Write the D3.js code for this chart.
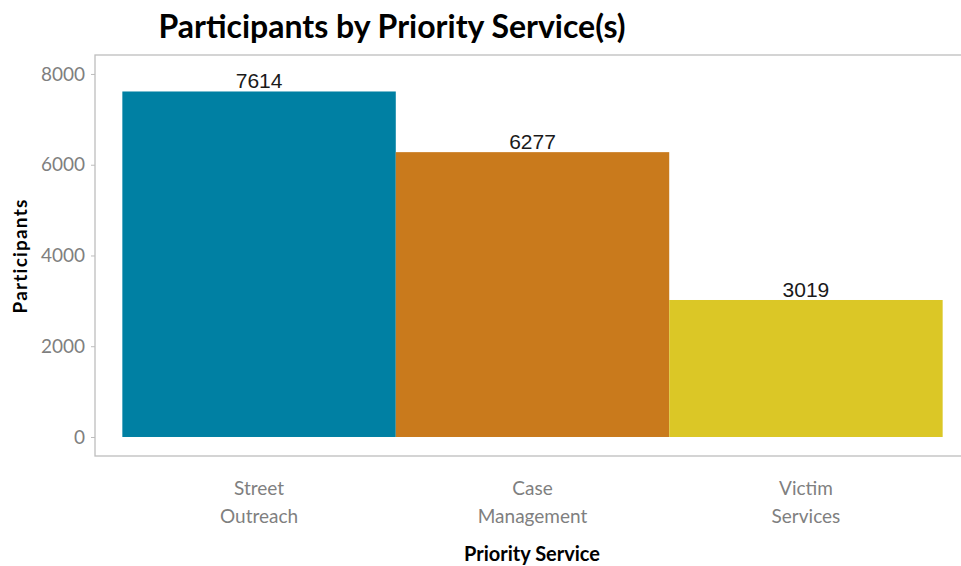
<!DOCTYPE html>
<html>
<head>
<meta charset="utf-8">
<script src="https://cdn.jsdelivr.net/npm/d3@7"></script>
<style>
  body { margin: 0; background: #fff; }
  svg { display: block; }
</style>
</head>
<body>
<div id="chart"></div>
<script>
var categories = ["Street Outreach", "Case Management", "Victim Services"];
var labelLines = [["Street", "Outreach"], ["Case", "Management"], ["Victim", "Services"]];
var participants = [7614, 6277, 3019];
var colors = ["#0080A3", "#C97A1C", "#DBC726"];
var yTicks = [0, 2000, 4000, 6000, 8000];

var width = 961, height = 566;
var margin = {top: 55, right: -9, bottom: 110, left: 95};
var innerW = width - margin.left - margin.right;
var innerH = height - margin.top - margin.bottom;

var svg = d3.select("#chart")
    .append("svg")
    .attr("width", width)
    .attr("height", height);

var g = svg.append("g")
    .attr("transform", "translate(" + margin.left + "," + margin.top + ")");

// discrete axis with ggplot-like 0.6 expansion
var xPos = d3.scaleLinear()
    .domain([0.4, 3.6])
    .range([0, innerW]);

var y = d3.scaleLinear()
    .domain([-419, 8418])
    .range([innerH, 0]);

// panel border
g.append("rect")
    .attr("x", 0)
    .attr("y", 0)
    .attr("width", innerW)
    .attr("height", innerH)
    .attr("fill", "none")
    .attr("stroke", "#bdbdbd")
    .attr("stroke-width", 1.3);

// bars
g.selectAll("rect.bar")
    .data(participants)
    .join("rect")
    .attr("class", "bar")
    .attr("x", (d, i) => xPos(i + 0.5))
    .attr("width", (d, i) => xPos(i + 1.5) - xPos(i + 0.5))
    .attr("y", d => y(d))
    .attr("height", d => y(0) - y(d))
    .attr("fill", (d, i) => colors[i]);

// value labels
g.selectAll("text.val")
    .data(participants)
    .join("text")
    .attr("class", "val")
    .attr("x", (d, i) => xPos(i + 1))
    .attr("y", d => y(d) - 3)
    .attr("text-anchor", "middle")
    .style("font-family", "Liberation Sans, Arial, sans-serif")
    .style("font-size", "21px")
    .style("fill", "#1a1a1a")
    .text(d => d);

// y axis
var yAxis = g.append("g")
    .call(d3.axisLeft(y).tickValues(yTicks).tickFormat(d3.format("d")).tickSize(4).tickPadding(6))
yAxis.select(".domain").remove();
yAxis.selectAll(".tick line").attr("stroke", "#bdbdbd");
yAxis.selectAll(".tick text")
    .style("font-family", "Lato, sans-serif")
    .style("font-size", "19px")
    .style("fill", "#7f7f7f");

// x axis labels
var xLab = g.selectAll("g.xlab")
    .data(labelLines)
    .join("g")
    .attr("class", "xlab")
    .attr("transform", (d, i) => "translate(" + xPos(i + 1) + "," + (innerH + 39) + ")");
xLab.selectAll("text")
    .data(d => d)
    .join("text")
    .attr("y", (d, j) => j * 28)
    .attr("text-anchor", "middle")
    .style("font-family", "Lato, sans-serif")
    .style("font-size", "19px")
    .style("fill", "#7f7f7f")
    .text(d => d);

// title
svg.append("text")
    .attr("x", 392)
    .attr("y", 38)
    .attr("text-anchor", "middle")
    .style("font-family", "Lato, sans-serif")
    .style("font-weight", "bold")
    .style("font-size", "32px")
    .style("fill", "#000")
    .text("Participants by Priority Service(s)");

// axis titles
svg.append("text")
    .attr("x", 532)
    .attr("y", 561)
    .attr("text-anchor", "middle")
    .style("font-family", "Lato, sans-serif")
    .style("font-weight", "bold")
    .style("font-size", "20px")
    .text("Priority Service");

svg.append("text")
    .attr("transform", "translate(27,256) rotate(-90)")
    .attr("text-anchor", "middle")
    .style("font-family", "Lato, sans-serif")
    .style("font-weight", "bold")
    .style("font-size", "19px")
    .style("letter-spacing", "1.2px")
    .text("Participants");
</script>
</body>
</html>
